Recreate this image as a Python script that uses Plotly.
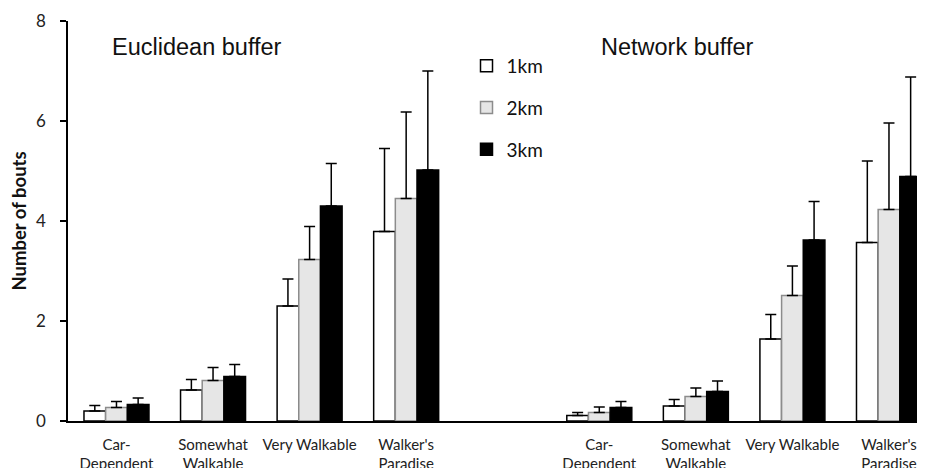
import plotly.graph_objects as go

# ---- data ----
categories = ["Car-<br>Dependent", "Somewhat<br>Walkable", "Very Walkable", "Walker's<br>Paradise"]
buffers = ["Euclidean buffer", "Network buffer"]
series_names = ["1km", "2km", "3km"]

euc_1km = [0.20, 0.62, 2.30, 3.79]
euc_2km = [0.27, 0.81, 3.23, 4.45]
euc_3km = [0.33, 0.89, 4.30, 5.02]
euc_1km_sd = [0.11, 0.21, 0.54, 1.66]
euc_2km_sd = [0.12, 0.26, 0.66, 1.73]
euc_3km_sd = [0.13, 0.24, 0.85, 1.98]

net_1km = [0.11, 0.30, 1.64, 3.57]
net_2km = [0.17, 0.49, 2.51, 4.23]
net_3km = [0.27, 0.59, 3.62, 4.89]
net_1km_sd = [0.06, 0.13, 0.49, 1.63]
net_2km_sd = [0.11, 0.17, 0.59, 1.73]
net_3km_sd = [0.12, 0.21, 0.77, 1.99]

y_ticks = [0, 2, 4, 6, 8]

# ---- build ----
n = len(categories)
# Euclidean categories at 0..n-1, network categories after a one-slot gap
xpos = list(range(n)) + [n + 1 + i for i in range(n)]
ticktext = categories + categories

values = [euc_1km + net_1km, euc_2km + net_2km, euc_3km + net_3km]
sds = [euc_1km_sd + net_1km_sd, euc_2km_sd + net_2km_sd, euc_3km_sd + net_3km_sd]
fills = ["#ffffff", "#e6e6e6", "#000000"]
lines = ["#000000", "#8c8c8c", "#000000"]

fig = go.Figure()
for i, name in enumerate(series_names):
    fig.add_trace(go.Bar(
        x=xpos, y=values[i], name=name, legendgroup=name,
        marker=dict(color=fills[i], line=dict(color=lines[i], width=1.5)),
        error_y=dict(type="data", symmetric=False, array=sds[i],
                     arrayminus=[0] * len(sds[i]), color="#000000",
                     thickness=1.5, width=5.5),
    ))

# the page body has an 8px margin, so the figure is sized to fit inside it
fig.update_layout(
    width=917, height=460,
    margin=dict(l=60, r=0, t=13, b=47, autoexpand=False),
    paper_bgcolor="white", plot_bgcolor="white",
    barmode="group", bargap=0.327, bargroupgap=0,
    showlegend=True,
    legend=dict(x=0.465, y=0.935, xanchor="left", yanchor="top",
                font=dict(family="Lato", size=19, color="#111"),
                tracegroupgap=14, itemwidth=30, bgcolor="rgba(0,0,0,0)"),
    font=dict(family="Lato", color="#222"),
    xaxis=dict(range=[-0.502, 8.373], tickmode="array", tickvals=xpos,
               ticktext=ticktext, showline=True, linecolor="#000",
               linewidth=1.5, ticks="", showgrid=False, zeroline=False,
               automargin=False,
               tickfont=dict(family="Lato", size=15, color="#222"),
               ticklabelstandoff=9),
    yaxis=dict(range=[0, 8], tickvals=y_ticks, showline=True, linecolor="#000",
               linewidth=1.5, ticks="outside", ticklen=6, tickcolor="#000",
               tickwidth=1.5, showgrid=False, zeroline=False, automargin=False,
               tickfont=dict(family="Lato", size=17, color="#222"),
               ticklabelstandoff=11,
               title=dict(text="<b>Number of bouts</b>", standoff=4,
                          font=dict(family="Lato", size=18.5, color="#111"))),
)

fig.add_annotation(text=buffers[0], xref="paper", yref="paper", x=0.049, y=0.936,
                   xanchor="left", yanchor="middle", showarrow=False,
                   font=dict(family="Liberation Sans", size=23.5, color="#111"))
fig.add_annotation(text=buffers[1], xref="paper", yref="paper", x=0.62, y=0.936,
                   xanchor="left", yanchor="middle", showarrow=False,
                   font=dict(family="Liberation Sans", size=23.5, color="#111"))

fig.write_html("out.html")
